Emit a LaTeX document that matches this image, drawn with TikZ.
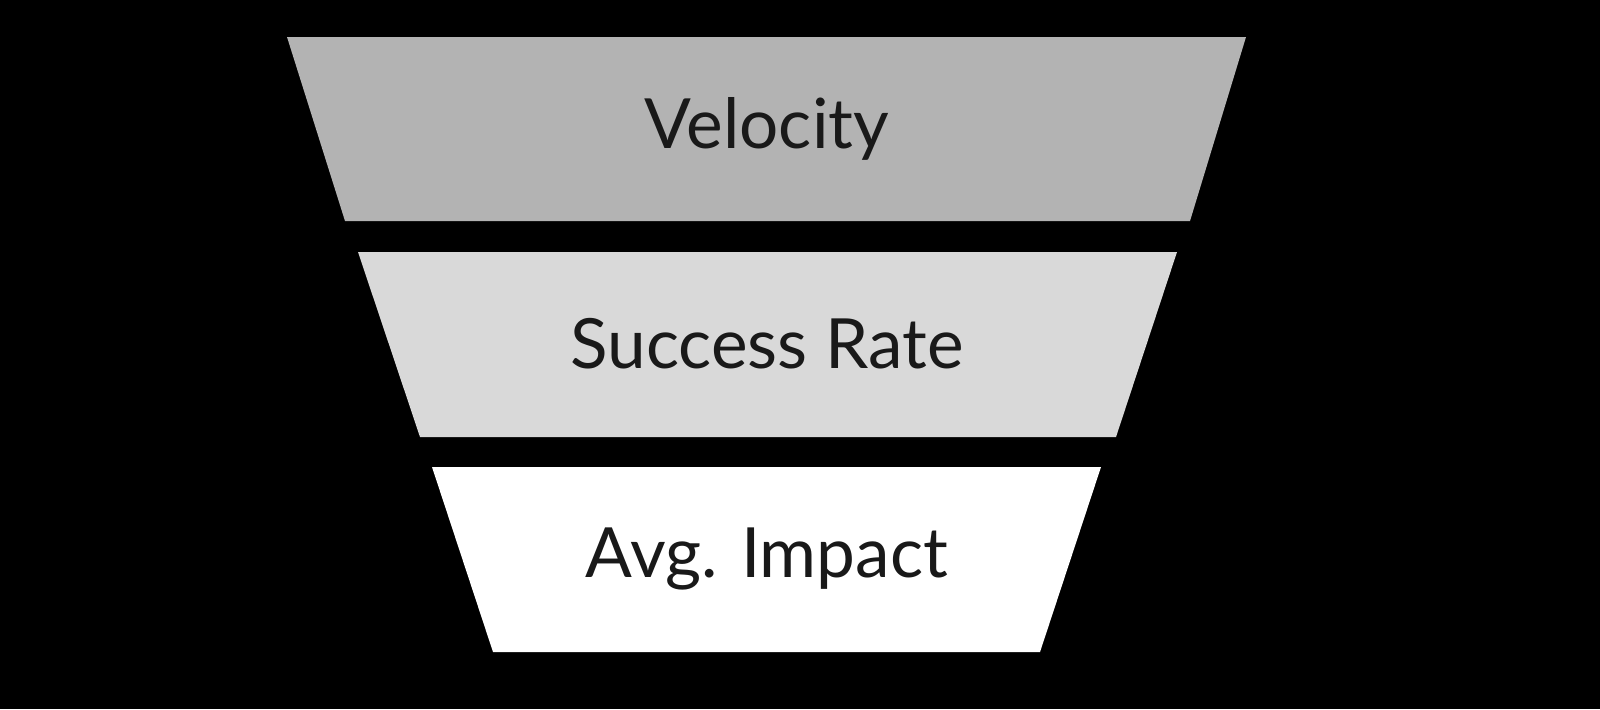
\documentclass[tikz,border=0pt]{standalone}
\usepackage{fontspec}
\setmainfont{Lato}
\definecolor{topgray}{HTML}{B3B3B3}
\definecolor{midgray}{HTML}{D9D9D9}
\begin{document}
\begin{tikzpicture}[x=0.01cm,y=-0.01cm,
        layer/.style={draw=none},
        label text/.style={font=\fontsize{19.7}{24}\selectfont, text=black!90}]

        % Background
        \fill[black] (0,0) rectangle (1600,709);
        \useasboundingbox (0,0) rectangle (1600,709);

        % Funnel layers
        \fill[layer,topgray] (287,37) -- (1246,37) -- (1190,221) -- (345,221) -- cycle;
        \fill[layer,midgray] (358,252) -- (1177,252) -- (1116,437) -- (420,437) -- cycle;
        \fill[layer,white] (432,467) -- (1101,467) -- (1040,652) -- (493,652) -- cycle;

        % Labels
        \node[label text] (velocity) at (767,129) {Velocity};
        \node[label text] (success) at (767,344) {Success Rate};
        \node[label text] (impact) at (767,559) {Avg. Impact};

        \end{tikzpicture}
\end{document}
